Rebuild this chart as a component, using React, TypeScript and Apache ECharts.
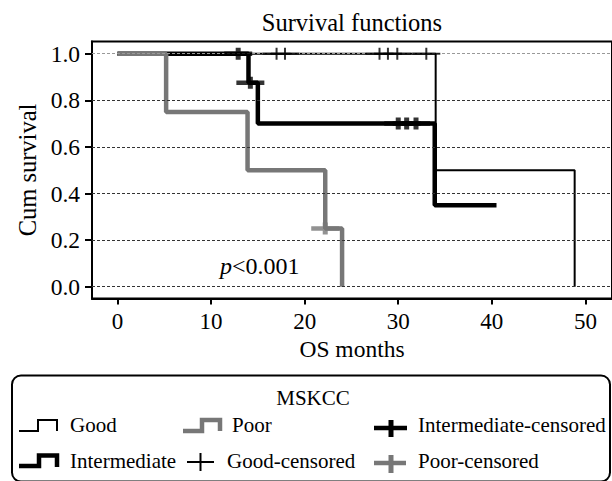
import React, { useEffect, useRef } from 'react';
import * as echarts from 'echarts';

// Kaplan-Meier step data (months, cumulative survival)
const GOOD_T = [0, 34.0, 48.85];
const GOOD_S = [1, 0.5, 0];
const INTER_T = [0, 14.0, 15.0, 33.9, 40.5];
const INTER_S = [1, 0.875, 0.7, 0.35, 0.35];
const POOR_T = [0, 5.2, 13.9, 22.2, 24.0];
const POOR_S = [1, 0.75, 0.5, 0.25, 0];

// Censored observations
const GOOD_CENS_T = [17.0, 17.9, 28.0, 28.9, 29.9, 33.0];
const GOOD_CENS_S = [1, 1, 1, 1, 1, 1];
const INTER_CENS_T = [12.9, 14.2, 30.0, 30.9, 31.9];
const INTER_CENS_S = [1, 0.875, 0.7, 0.7, 0.7];
const POOR_CENS_T = [22.2];
const POOR_CENS_S = [0.25];

const X_TICKS = [0, 10, 20, 30, 40, 50];
const Y_TICKS = [0, 0.2, 0.4, 0.6, 0.8, 1.0];

const TITLE = 'Survival functions';
const X_NAME = 'OS months';
const Y_NAME = 'Cum survival';
const LEGEND_TITLE = 'MSKCC';

const FONT = 'Liberation Serif';
const GREY = '#777777';

const zip = (t: number[], s: number[]) => t.map((v, i) => [v, s[i]]);

const THICK_PLUS = 'path://M0,3.75H28V8.25H0Z M11.5,0H16.5V12H11.5Z';
const THIN_PLUS = 'path://M0,5H28V7H0Z M13,0H15V12H13Z';

export default function App() {
  const ref = useRef<HTMLDivElement>(null);
  useEffect(() => {
    const chart = echarts.init(ref.current!, null, { renderer: 'svg' });
    const textBase = { fontFamily: FONT, fill: '#000' };
    const legendText = (text: string, x: number, y: number) => ({
      type: 'text',
      x,
      y,
      style: { ...textBase, text, fontSize: 21, textVerticalAlign: 'middle', textAlign: 'left' },
    });
    const option: any = {
      animation: false,
      backgroundColor: '#fff',
      textStyle: { fontFamily: FONT },
      grid: {
        left: 92,
        top: 41.5,
        width: 525,
        height: 257,
        show: true,
        borderColor: '#000',
        borderWidth: 2,
        backgroundColor: 'transparent',
      },
      xAxis: {
        type: 'value',
        min: -2.72,
        max: 52.84,
        axisLine: { show: true, onZero: false, lineStyle: { color: '#000', width: 2 } },
        axisTick: { show: true, customValues: X_TICKS, length: 6, lineStyle: { color: '#000', width: 2 } },
        axisLabel: { customValues: X_TICKS, margin: 11, fontSize: 23, color: '#000', fontFamily: FONT },
        splitLine: { show: false },
        name: X_NAME,
        nameLocation: 'middle',
        nameGap: 38,
        nameTextStyle: { fontSize: 23.5, color: '#000', fontFamily: FONT },
      },
      yAxis: {
        type: 'value',
        min: -0.0506,
        max: 1.0524,
        axisLine: { show: true, onZero: false, lineStyle: { color: '#000', width: 2 } },
        axisTick: { show: true, customValues: Y_TICKS, length: 7, lineStyle: { color: '#000', width: 2 } },
        axisLabel: {
          customValues: Y_TICKS,
          margin: 12,
          fontSize: 23.5,
          color: '#000',
          fontFamily: FONT,
          formatter: (v: number) => v.toFixed(1),
        },
        splitLine: { show: false },
        name: Y_NAME,
        nameLocation: 'middle',
        nameGap: 50,
        nameTextStyle: { fontSize: 24.5, color: '#000', fontFamily: FONT },
      },
      series: [
        {
          type: 'scatter',
          data: [],
          z: 1,
          silent: true,
          markLine: {
            silent: true,
            symbol: ['none', 'none'],
            label: { show: false },
            lineStyle: { type: [3, 2], color: '#333', width: 1 },
            data: Y_TICKS.map((v) => ({
              yAxis: v,
              lineStyle: { type: [3, 2], color: v === 1 ? '#999' : '#333', width: 1 },
            })),
          },
        },
        {
          name: 'Good',
          type: 'line',
          step: 'end',
          z: 2,
          symbol: 'none',
          data: zip(GOOD_T, GOOD_S),
          lineStyle: { color: '#000', width: 2 },
        },
        {
          name: 'Intermediate',
          type: 'line',
          step: 'end',
          z: 3,
          symbol: 'none',
          data: zip(INTER_T, INTER_S),
          lineStyle: { color: '#000', width: 4.5 },
        },
        {
          name: 'Poor',
          type: 'line',
          step: 'end',
          z: 4,
          symbol: 'none',
          data: zip(POOR_T, POOR_S),
          lineStyle: { color: GREY, width: 4.5 },
        },
        {
          name: 'Good-censored',
          type: 'scatter',
          z: 5,
          symbol: THIN_PLUS,
          symbolSize: [28, 12],
          data: zip(GOOD_CENS_T, GOOD_CENS_S),
          itemStyle: { color: '#000' },
        },
        {
          name: 'Intermediate-censored',
          type: 'scatter',
          z: 6,
          symbol: THICK_PLUS,
          symbolSize: [28, 12],
          data: zip(INTER_CENS_T, INTER_CENS_S),
          itemStyle: { color: '#000' },
        },
        {
          name: 'Poor-censored',
          type: 'scatter',
          z: 7,
          symbol: THICK_PLUS,
          symbolSize: [28, 12],
          data: zip(POOR_CENS_T, POOR_CENS_S),
          itemStyle: { color: GREY },
        },
      ],
      graphic: [
        {
          type: 'text',
          x: 352,
          y: 22,
          style: { ...textBase, text: TITLE, fontSize: 24.5, textAlign: 'center', textVerticalAlign: 'middle' },
        },
        {
          type: 'text',
          x: 220,
          y: 266,
          style: {
            ...textBase,
            text: '{i|p}{n|<0.001}',
            textVerticalAlign: 'middle',
            rich: {
              i: { fontFamily: FONT, fontStyle: 'italic', fontSize: 24, fill: '#000' },
              n: { fontFamily: FONT, fontSize: 24, fill: '#000' },
            },
          },
        },
        // legend box
        {
          type: 'rect',
          shape: { x: 12, y: 375.5, width: 598, height: 106, r: 9 },
          style: { fill: 'none', stroke: '#000', lineWidth: 2 },
        },
        {
          type: 'text',
          x: 313,
          y: 398,
          style: { ...textBase, text: LEGEND_TITLE, fontSize: 21, textAlign: 'center', textVerticalAlign: 'middle' },
        },
        // Good icon
        {
          type: 'polyline',
          shape: { points: [[19, 431], [38, 431], [38, 420], [57, 420], [57, 431]] },
          style: { stroke: '#000', lineWidth: 2, fill: 'none' },
        },
        legendText('Good', 70, 425),
        // Poor icon
        {
          type: 'polyline',
          shape: { points: [[183, 431], [202, 431], [202, 420], [220, 420], [220, 431]] },
          style: { stroke: GREY, lineWidth: 4.5, fill: 'none' },
        },
        legendText('Poor', 232, 425),
        // Intermediate-censored icon
        { type: 'rect', shape: { x: 374, y: 425.75, width: 33, height: 4.5 }, style: { fill: '#000' } },
        { type: 'rect', shape: { x: 388.5, y: 420, width: 5, height: 17 }, style: { fill: '#000' } },
        legendText('Intermediate-censored', 418, 425),
        // Intermediate icon
        {
          type: 'polyline',
          shape: { points: [[19, 466], [39, 466], [39, 455.5], [57, 455.5], [57, 467]] },
          style: { stroke: '#000', lineWidth: 4.5, fill: 'none' },
        },
        legendText('Intermediate', 70, 461),
        // Good-censored icon
        { type: 'rect', shape: { x: 187, y: 461, width: 27, height: 2 }, style: { fill: '#000' } },
        { type: 'rect', shape: { x: 199.5, y: 453, width: 2, height: 18 }, style: { fill: '#000' } },
        legendText('Good-censored', 227, 461),
        // Poor-censored icon
        { type: 'rect', shape: { x: 374, y: 460.75, width: 32, height: 4.5 }, style: { fill: GREY } },
        { type: 'rect', shape: { x: 388.5, y: 455, width: 5, height: 18 }, style: { fill: GREY } },
        legendText('Poor-censored', 418, 461),
      ],
    };
    chart.setOption(option);
    return () => chart.dispose();
  }, []);
  return (
    <div
      ref={ref}
      style={{ position: 'absolute', left: 0, top: 0, width: 612, height: 481, background: '#fff' }}
    />
  );
}
